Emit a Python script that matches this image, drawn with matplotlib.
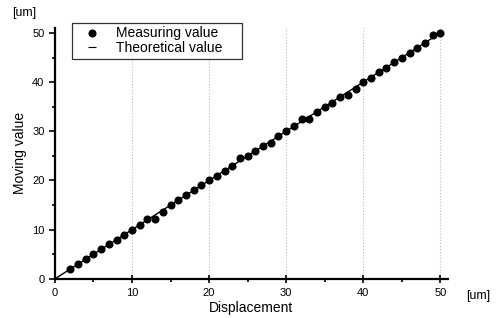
"""Measured vs theoretical moving value over displacement."""
import matplotlib
matplotlib.use("Agg")
import matplotlib.pyplot as plt
from matplotlib.lines import Line2D
import numpy as np

plt.rcParams['font.family'] = ['Liberation Sans', 'DejaVu Sans']

# displacement [um]
displacement = list(range(0, 51))
# measured moving value [um] (first point at 2 um)
meas_x = list(range(2, 51))
measured = [2.0, 3.0, 4.0, 5.0, 6.0, 7.0, 8.0, 9.0, 10.0,
            11.0, 12.1, 12.1, 13.6, 15.0, 16.0, 17.0, 18.0, 19.0, 20.0,
            21.0, 22.0, 23.0, 24.5, 25.0, 26.0, 27.0, 27.6, 29.0, 30.0,
            31.0, 32.5, 32.4, 34.0, 35.0, 35.8, 37.0, 37.4, 38.6, 40.0,
            40.8, 42.0, 42.9, 44.0, 45.0, 46.0, 47.0, 48.0, 49.6, 50.0]
theoretical = list(range(0, 51))

fig = plt.figure(figsize=(4.99, 3.18), dpi=100)
ax = fig.add_axes([0.110, 0.123, 0.788, 0.789])

ax.plot(displacement, theoretical, color='black', linewidth=1.0)
ax.plot(meas_x, measured, linestyle='none', marker='o',
        markersize=4.8, color='black')

ax.set_xlim(0, 51)
ax.set_ylim(0, 51)
ax.set_xticks([0, 10, 20, 30, 40, 50])
ax.set_yticks([0, 10, 20, 30, 40, 50])
ax.set_xticks(np.arange(5, 50, 10), minor=True)
ax.set_yticks(np.arange(5, 50, 10), minor=True)
ax.tick_params(axis='both', labelsize=8, width=1.2, length=4)
ax.tick_params(axis='x', direction='inout', length=6)
ax.tick_params(axis='y', direction='out')
ax.tick_params(which='minor', length=2.5, width=1.2, direction='out')

for s in ('top', 'right'):
    ax.spines[s].set_visible(False)
for s in ('left', 'bottom'):
    ax.spines[s].set_linewidth(1.6)

ax.grid(axis='x', color='#bbbbbb', linestyle=':', linewidth=0.8)
ax.set_axisbelow(True)

ax.set_xlabel('Displacement', fontsize=10, labelpad=2)
ax.set_ylabel('Moving value', fontsize=10, labelpad=4)
fig.text(0.024, 0.958, '[um]', fontsize=9, ha='left', va='center')
fig.text(0.934, 0.068, '[um]', fontsize=9, ha='left', va='center')

# legend: dot for measured, short dash for theoretical
handles = [Line2D([], [], linestyle='none', marker='o', markersize=4.8,
                  color='black'),
           Line2D([], [], linestyle='none', marker='_', markersize=6,
                  markeredgewidth=0.8, color='black')]
labels = ['Measuring value', 'Theoretical value']
leg = ax.legend(handles, labels, loc='upper left',
                bbox_to_anchor=(0.043, 1.02, 0.433, 0.0), mode='expand',
                fontsize=10, frameon=True, fancybox=False,
                edgecolor='black', borderpad=0.25, labelspacing=0.05,
                handlelength=2.4, handletextpad=0.5, borderaxespad=0.0)
leg.get_frame().set_linewidth(0.9)

fig.savefig('out.png', dpi=100)
